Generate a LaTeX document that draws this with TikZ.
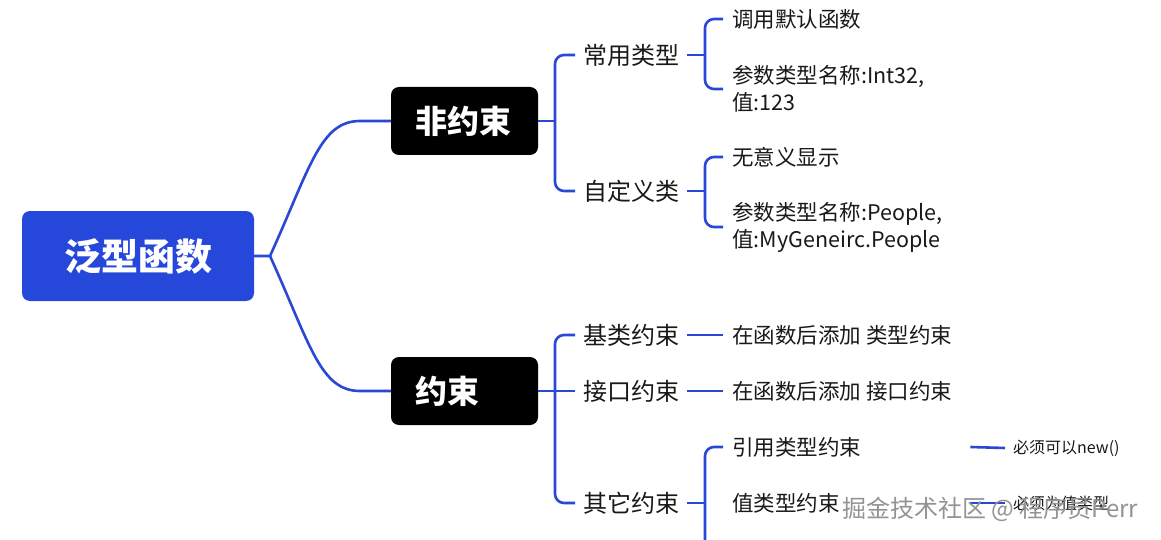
\documentclass[tikz,border=0pt]{standalone}
\usepackage{fontspec}
\setmainfont{Noto Sans CJK SC}
\definecolor{lineblue}{RGB}{42,72,214}
\definecolor{rootblue}{RGB}{38,72,218}
\definecolor{txt}{RGB}{25,25,25}
\begin{document}
\begin{tikzpicture}[x=1pt,y=-1pt,
  conn/.style={draw=lineblue,line width=2.6pt},
  rootbox/.style={fill=rootblue,rounded corners=8pt,minimum width=232pt,minimum height=90pt,text=white,inner sep=0pt,font=\fontsize{37}{40}\selectfont\bfseries},
  blackbox/.style={fill=black,rounded corners=8pt,text width=99pt,inner xsep=24pt,inner ysep=0pt,minimum height=68pt,align=left,text=white,font=\fontsize{32}{36}\selectfont\bfseries},
  lvtwo/.style={anchor=west,inner sep=0pt,text=txt,font=\fontsize{24}{28}\selectfont},
  lvthree/.style={anchor=west,inner sep=0pt,text=txt,align=left,font=\fontsize{21.5}{27}\selectfont},
  lvfour/.style={anchor=west,inner sep=0pt,text=txt,font=\fontsize{16}{20}\selectfont},
  wmark/.style={anchor=west,inner sep=0pt,text=gray!85,font=\fontsize{24}{28}\selectfont}]
\useasboundingbox (0,0) rectangle (1161,540);
\clip (0,0) rectangle (1161,540);
\fill[white] (0,0) rectangle (1161,540);

% nodes
\node[rootbox] (root) at (138,256) {泛型函数};
\node[blackbox] (n1) at (464.5,121) {非约束};
\node[blackbox] (n2) at (464.5,391) {约束};

\node[lvtwo] (a) at (583,55) {常用类型};
\node[lvtwo] (b) at (583,191) {自定义类};
\node[lvthree] (a1) at (732,19) {调用默认函数};
\node[lvthree] (a2) at (732,89) {参数类型名称:Int32,\\值:123};
\node[lvthree] (b1) at (732,157) {无意义显示};
\node[lvthree] (b2) at (732,227) {参数类型名称:People,\\值:MyGeneirc.People};

\node[lvtwo] (c) at (583,335) {基类约束};
\node[lvtwo] (d) at (583,391) {接口约束};
\node[lvtwo] (e) at (583,503) {其它约束};
\node[lvthree] (c1) at (732,335) {在函数后添加 类型约束};
\node[lvthree] (d1) at (732,391) {在函数后添加 接口约束};
\node[lvthree,text width=230pt] (e1) at (732,447) {引用类型约束};
\node[lvthree,text width=230pt] (e2) at (732,503) {值类型约束};
\coordinate (e3) at (722,580);
\node[lvfour] (f1) at (1013,448) {必须可以new()};
\node[lvfour] (f2) at (1013,503) {必须为值类型};

% bracket points
\coordinate (r0) at (270,256);
\coordinate (bn1) at (555,121);
\coordinate (bn2) at (555,391);
\coordinate (ba) at (705,55);
\coordinate (bb) at (705,191);
\coordinate (be) at (705,503);

% root connectors
\draw[conn] (root.east) -- (r0) .. controls (310,168) and (320,121) .. (360,121) -- (n1.west);
\draw[conn] (r0) .. controls (310,344) and (320,391) .. (360,391) -- (n2.west);

% non-constraint branch
\draw[conn] (n1.east) -- (bn1);
\draw[conn,rounded corners=9pt] ([xshift=-8pt]a.west) -| (bn1) |- ([xshift=-8pt]b.west);
\draw[conn] ([xshift=8pt]a.east) -- (ba);
\draw[conn,rounded corners=9pt] ([xshift=-9pt]a1.west) -| (ba) |- ([xshift=-9pt]a2.west);
\draw[conn] ([xshift=8pt]b.east) -- (bb);
\draw[conn,rounded corners=9pt] ([xshift=-9pt]b1.west) -| (bb) |- ([xshift=-9pt]b2.west);

% constraint branch
\draw[conn] (n2.east) -- ([xshift=-8pt]d.west);
\draw[conn,rounded corners=9pt] ([xshift=-8pt]c.west) -| (bn2) |- ([xshift=-8pt]e.west);
\draw[conn] ([xshift=8pt]c.east) -- ([xshift=-9pt]c1.west);
\draw[conn] ([xshift=8pt]d.east) -- ([xshift=-9pt]d1.west);
\draw[conn] ([xshift=8pt]e.east) -- (be);
\draw[conn,rounded corners=9pt] ([xshift=-9pt]e1.west) -| (be) |- (e3);
\draw[conn] ([xshift=8pt]e1.east) -- ([xshift=-8pt]f1.west);
\draw[conn] ([xshift=8pt]e2.east) -- ([xshift=-8pt]f2.west);

% watermark
\node[wmark] (wm) at (842,509) {掘金技术社区 @ 程序员Perr};
\end{tikzpicture}
\end{document}
